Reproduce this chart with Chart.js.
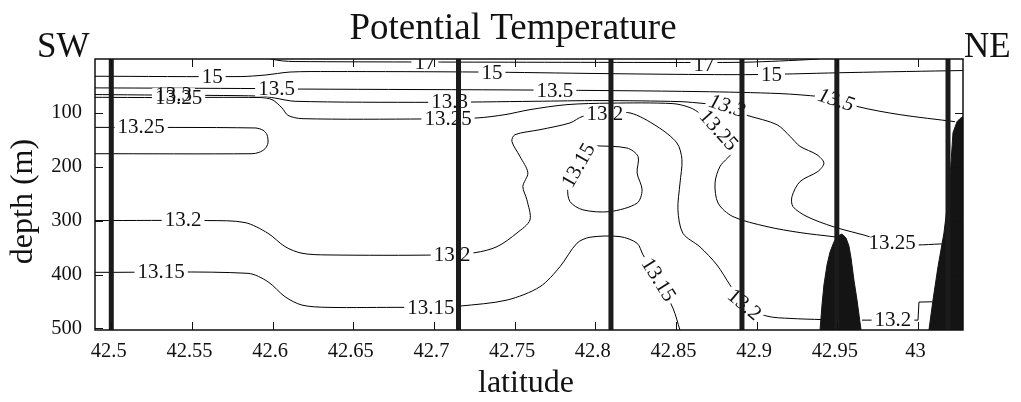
<!DOCTYPE html>
<html>
<head>
<meta charset="utf-8">
<title>Potential Temperature</title>
<script src="https://cdn.jsdelivr.net/npm/chart.js@4/dist/chart.umd.min.js"></script>
<style>
  html, body { margin: 0; padding: 0; background: #fff; }
  #wrap { width: 1021px; height: 402px; }
</style>
</head>
<body>
<div id="wrap"><canvas id="c" width="1021" height="402"></canvas></div>
<script>
// ---- axes ----
const xTickValues = [42.5, 42.55, 42.6, 42.65, 42.7, 42.75, 42.8, 42.85, 42.9, 42.95, 43];
const xTickLabels = ['42.5', '42.55', '42.6', '42.65', '42.7', '42.75', '42.8', '42.85', '42.9', '42.95', '43'];
const yTickValues = [100, 200, 300, 400, 500];
const yTickLabels = ['100', '200', '300', '400', '500'];
const latRange = [42.4899, 43.0279];
const depthRange = [0, 503];

// ---- CTD stations (latitude) ----
const stationLat = [42.5, 42.7152, 42.8097, 42.8909, 42.9497, 43.0186];

// ---- bottom topography [latitude, depth] ----
const seamountA = [[42.9393, 503], [42.9405, 456.8], [42.9417, 419.5], [42.9436, 382.3], [42.9455, 358.1], [42.9479, 339.5], [42.9504, 328.4], [42.9529, 324.7], [42.9554, 332.1], [42.9572, 347.0], [42.9585, 369.3], [42.9603, 410.3], [42.9622, 447.4], [42.9647, 503]];
const seamountB = [[43.0068, 503], [43.0093, 447.4], [43.0124, 385.5], [43.0161, 322.8], [43.0186, 261.4], [43.0203, 199.4], [43.0217, 136.7], [43.0242, 116.3], [43.0260, 110.7], [43.0279, 107.0], [43.0322, 103.3]];

// ---- isotherms [latitude, depth] ----
const iso17 = [[42.5975, -3], [42.5990, 0], [42.6060, 3.5], [42.6139, 4.7], [42.6944, 5.6], [42.8649, 6.5], [42.8926, 6.0], [42.9143, 3.7], [42.9374, 0], [42.9455, -4]];
const iso15 = [[42.4899, 32.0], [42.5798, 32.6], [42.5953, 29.8], [42.6108, 24.2], [42.6356, 23.3], [42.7286, 24.2], [42.8029, 27.0], [42.8649, 28.8], [42.9021, 28.8], [42.9579, 25.1], [43.0279, 21.4]];
const iso13p5 = [[42.4899, 53.6], [42.5922, 54.9], [42.6170, 55.8], [42.7657, 57.7], [42.8649, 60.5], [42.9145, 64.2], [42.9393, 69.8], [42.9517, 75.4], [42.9628, 88.4], [42.9888, 103.3], [43.0229, 116.3]];
const iso13p3 = [[42.4899, 66.0], [42.5302, 67.0], [42.5922, 68.8], [42.6015, 72.6], [42.6139, 78.5], [42.6975, 80.4], [42.7626, 78.5], [42.8029, 77.2], [42.8525, 79.1], [42.8680, 82.8], [42.8816, 87.4], [42.8946, 105.1]];
const iso13p25main = [[42.4899, 71.1], [42.5302, 71.6], [42.5922, 71.6], [42.5996, 75.4], [42.6058, 90.8], [42.6095, 104.6], [42.6182, 110.7], [42.6944, 111.3], [42.7267, 109.4], [42.7440, 103.3], [42.7595, 94.0], [42.7824, 84.7], [42.8091, 81.9], [42.8481, 82.8], [42.8587, 90.2], [42.8649, 101.4], [42.8761, 133.0], [42.8853, 168.4], [42.8773, 199.4], [42.8742, 230.3], [42.8761, 267.5], [42.8853, 292.5], [42.9064, 311.1], [42.9269, 322.2], [42.9473, 329.7], [42.9504, 331.0]];
const iso13p25tongue = [[42.4899, 126.9], [42.5891, 128.0], [42.5940, 132.1], [42.5965, 140.5], [42.5971, 155.9], [42.5953, 166.5], [42.5915, 173.4], [42.5872, 175.8], [42.4899, 175.8]];
const iso13p25east = [[42.8946, 105.1], [42.9126, 121.9], [42.9207, 143.6], [42.9269, 162.2], [42.9374, 177.7], [42.9417, 193.1], [42.9380, 208.7], [42.9269, 227.4], [42.9219, 255.3], [42.9225, 273.9], [42.9312, 292.5], [42.9473, 311.1], [42.9622, 323.4], [42.9684, 328.4], [42.9764, 337.7], [42.9839, 342.3], [42.9993, 345.1], [43.0136, 343.3], [43.0167, 343.3]];
const iso13p2main = [[42.4899, 299.9], [42.5599, 299.9], [42.5829, 303.6], [42.5971, 323.4], [42.6077, 348.3], [42.6182, 360.6], [42.6343, 363.7], [42.7037, 363.7], [42.7254, 359.5], [42.7391, 348.3], [42.7515, 322.8], [42.7595, 298.6], [42.7576, 261.4], [42.7551, 236.7], [42.7582, 211.2], [42.7533, 180.8], [42.7483, 152.9], [42.7502, 140.5], [42.7657, 131.2], [42.7843, 118.7], [42.7923, 106.4], [42.8060, 103.3], [42.8215, 100.1], [42.8382, 125.0], [42.8506, 155.9], [42.8537, 187.0], [42.8525, 230.3], [42.8512, 280.0], [42.8543, 323.4], [42.8649, 348.8], [42.8754, 382.3], [42.8835, 419.5], [42.8921, 456.8], [42.9064, 477.2], [42.9207, 481.5], [42.9405, 483.7]];
const iso13p2gap = [[42.9653, 484.7], [42.9845, 484.7], [43.0000, 484.7], [43.0006, 451.2], [43.0087, 450.6]];
const iso13p15main = [[42.4899, 395.9], [42.5847, 397.8], [42.5971, 413.4], [42.6077, 441.3], [42.6182, 456.8], [42.6343, 461.0], [42.6820, 461.0], [42.6981, 462.3], [42.7161, 458.6], [42.7453, 447.4], [42.7657, 422.7], [42.7781, 385.5], [42.7886, 342.0], [42.7967, 330.8], [42.8153, 329.7], [42.8259, 342.0], [42.8296, 363.7], [42.8389, 410.2], [42.8481, 462.3], [42.8525, 503.3], [42.8537, 512.6]];
const iso13p15core = [[42.7985, 160.9], [42.8196, 165.2], [42.8265, 180.8], [42.8259, 211.7], [42.8290, 242.8], [42.8259, 267.5], [42.8091, 283.2], [42.7923, 280.0], [42.7843, 264.6], [42.7830, 239.6], [42.7874, 205.6], [42.7936, 174.0], [42.7985, 160.9]];

const isotherms = [
  { level: 17, path: iso17 },
  { level: 15, path: iso15 },
  { level: 13.5, path: iso13p5 },
  { level: 13.3, path: iso13p3 },
  { level: 13.25, path: iso13p25main },
  { level: 13.25, path: iso13p25tongue },
  { level: 13.25, path: iso13p25east },
  { level: 13.2, path: iso13p2main },
  { level: 13.2, path: iso13p2gap, sharp: true },
  { level: 13.15, path: iso13p15main },
  { level: 13.15, path: iso13p15core }
];

// ---- isotherm labels ----
const labelLevel = [17, 17, 15, 15, 15, 13.5, 13.5, 13.5, 13.3, 13.25, 13.3, 13.25, 13.25, 13.2, 13.15, 13.2, 13.15, 13.2, 13.15, 13.15, 13.3, 13.25, 13.25, 13.2, 13.2];
const labelLat = [42.6944, 42.8673, 42.5625, 42.7359, 42.9092, 42.6024, 42.7750, 42.9491, 42.5386, 42.5417, 42.7097, 42.7087, 42.5185, 42.5445, 42.5309, 42.7112, 42.6981, 42.8060, 42.7899, 42.8389, 42.8816, 42.8761, 42.9839, 42.8921, 42.9845];
const labelDepth = [8.4, 12.1, 33.5, 27.3, 31.0, 56.7, 60.5, 77.2, 67.0, 72.6, 80.9, 112.6, 127.4, 300.5, 395.4, 365.6, 462.3, 103.3, 198.1, 410.2, 88.4, 133.0, 343.3, 456.8, 484.7];
const labelAngle = [0, 0, 0, 0, 0, 0, 0, 18, 0, 0, 0, 0, 0, 0, 0, 0, 0, 0, -60, 58, 18, 48, 0, 40, 0];
const labelItalic = [0, 0, 0, 0, 0, 0, 0, 1, 0, 0, 0, 0, 0, 0, 0, 0, 0, 0, 0, 0, 1, 0, 0, 0, 0];

const SERIF = '"Liberation Serif", "Times New Roman", serif';
const toPoints = arr => arr.map(p => ({ x: p[0], y: p[1] }));

const datasets = [];
stationLat.forEach(lat => datasets.push({
  data: [{ x: lat, y: depthRange[0] }, { x: lat, y: depthRange[1] }],
  showLine: true, pointRadius: 0, borderColor: '#1b1b1b', borderWidth: 5, fill: false
}));
[seamountA, seamountB].forEach(s => datasets.push({
  data: toPoints(s), showLine: true, pointRadius: 0, tension: 0,
  borderColor: '#141414', backgroundColor: '#141414', borderWidth: 1,
  fill: { value: depthRange[1] }
}));
const firstContourIndex = datasets.length;
isotherms.forEach(c => datasets.push({
  label: String(c.level),
  data: toPoints(c.path), showLine: true, pointRadius: 0,
  tension: c.sharp ? 0 : 0.3, borderColor: '#000', borderWidth: 1, fill: false
}));

function labelFont(i) {
  return (labelItalic[i] ? 'italic ' : '') + '21px ' + SERIF;
}

function drawIsothermLabels(chart) {
  const { ctx, chartArea: a, scales: { x, y } } = chart;
  ctx.save();
  ctx.beginPath();
  ctx.rect(a.left, a.top, a.right - a.left, a.bottom - a.top);
  ctx.clip();
  const items = labelLevel.map((lv, i) => ({
    i, text: String(lv),
    px: x.getPixelForValue(labelLat[i]),
    py: y.getPixelForValue(labelDepth[i]),
    ang: labelAngle[i] * Math.PI / 180
  }));
  // gaps in the lines under each label
  items.forEach(it => {
    ctx.save();
    ctx.translate(it.px, it.py);
    ctx.rotate(it.ang);
    ctx.font = labelFont(it.i);
    const w = ctx.measureText(it.text).width;
    ctx.fillStyle = '#fff';
    ctx.fillRect(-w / 2 - 3, -7, w + 6, 14);
    ctx.restore();
  });
  items.forEach(it => {
    ctx.save();
    ctx.translate(it.px, it.py);
    ctx.rotate(it.ang);
    ctx.font = labelFont(it.i);
    ctx.fillStyle = '#111';
    ctx.textAlign = 'center';
    ctx.textBaseline = 'middle';
    ctx.fillText(it.text, 0, 0);
    ctx.restore();
  });
  ctx.restore();
}

const decor = {
  id: 'decor',
  afterDatasetDraw(chart, args) {
    if (args.index === firstContourIndex) drawIsothermLabels(chart);
  },
  afterDraw(chart) {
    const { ctx, chartArea: a, scales: { x, y } } = chart;
    ctx.save();
    // frame
    ctx.strokeStyle = '#111';
    ctx.lineWidth = 1.5;
    ctx.strokeRect(a.left, a.top, a.right - a.left, a.bottom - a.top);
    // inward tick marks on all four sides
    ctx.lineWidth = 1;
    const tl = 8;
    ctx.beginPath();
    xTickValues.forEach(v => {
      const px = Math.round(x.getPixelForValue(v)) + 0.5;
      ctx.moveTo(px, a.bottom); ctx.lineTo(px, a.bottom - tl);
      ctx.moveTo(px, a.top); ctx.lineTo(px, a.top + tl);
    });
    yTickValues.forEach(v => {
      const py = Math.round(y.getPixelForValue(v)) + 0.5;
      ctx.moveTo(a.left, py); ctx.lineTo(a.left + tl, py);
      ctx.moveTo(a.right, py); ctx.lineTo(a.right - tl, py);
    });
    ctx.stroke();
    // headings
    ctx.fillStyle = '#111';
    ctx.textBaseline = 'alphabetic';
    ctx.font = '37px ' + SERIF;
    ctx.textAlign = 'center';
    ctx.fillText('Potential Temperature', 513, 39);
    ctx.font = '35px ' + SERIF;
    ctx.textAlign = 'left';
    ctx.fillText('SW', 37, 56.5);
    ctx.fillText('NE', 964, 56.5);
    // axis titles
    ctx.font = '32px ' + SERIF;
    ctx.textAlign = 'center';
    ctx.fillText('latitude', 526, 392);
    ctx.translate(31.5, 201.5);
    ctx.rotate(-Math.PI / 2);
    ctx.fillText('depth (m)', 0, 0);
    ctx.restore();
  }
};

new Chart(document.getElementById('c'), {
  type: 'scatter',
  data: { datasets },
  options: {
    responsive: false,
    animation: false,
    events: [],
    layout: { padding: { left: 0, right: 58, top: 59, bottom: 0 } },
    plugins: {
      legend: { display: false },
      tooltip: { enabled: false },
      title: { display: false }
    },
    scales: {
      x: {
        type: 'linear',
        min: latRange[0],
        max: latRange[1],
        afterBuildTicks: s => { s.ticks = xTickValues.map(v => ({ value: v })); },
        afterFit: s => { s.height = 72; },
        grid: { display: false, drawTicks: false },
        border: { display: false },
        ticks: {
          color: '#111',
          font: { family: SERIF, size: 20.5 },
          padding: 9.5,
          labelOffset: -2.5,
          maxRotation: 0,
          minRotation: 0,
          autoSkip: false,
          callback: (v, i) => xTickLabels[i]
        }
      },
      y: {
        type: 'linear',
        reverse: true,
        min: depthRange[0],
        max: depthRange[1],
        afterBuildTicks: s => { s.ticks = yTickValues.map(v => ({ value: v })); },
        afterFit: s => { s.width = 95; },
        grid: { display: false, drawTicks: false },
        border: { display: false },
        ticks: {
          color: '#111',
          font: { family: SERIF, size: 20.5 },
          padding: 13,
          autoSkip: false,
          callback: (v, i) => yTickLabels[i]
        }
      }
    }
  },
  plugins: [decor]
});
</script>
</body>
</html>
